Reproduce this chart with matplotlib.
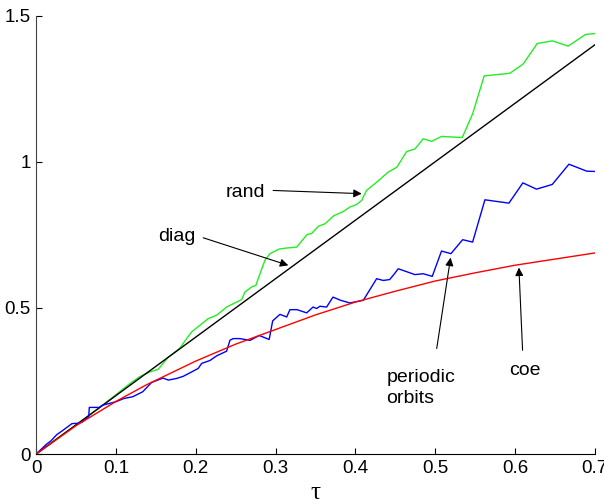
import matplotlib
matplotlib.use("Agg")
import matplotlib.pyplot as plt

# ---- data ----
diag_tau = [0.0, 0.7]
diag_val = [0.0, 1.4]

coe_tau = [0, 0.05, 0.1, 0.1376, 0.2, 0.25, 0.3, 0.35, 0.4, 0.45, 0.5, 0.55, 0.6, 0.65, 0.7]
coe_val = [0, 0.097, 0.18, 0.236, 0.318, 0.376, 0.426, 0.476, 0.52, 0.557, 0.592, 0.62, 0.646, 0.667, 0.688]

rand_tau = [0, 0.02, 0.04, 0.06, 0.08, 0.1, 0.1175, 0.13, 0.1426, 0.153, 0.165, 0.18,
            0.1886, 0.1949, 0.2053, 0.2157, 0.2262, 0.2387, 0.249, 0.2575, 0.2617, 0.270,
            0.2754, 0.2805, 0.2867, 0.293, 0.3047, 0.314, 0.3264, 0.3397, 0.345, 0.3535,
            0.362, 0.373, 0.385, 0.393, 0.4016, 0.408, 0.414, 0.4267, 0.441, 0.452, 0.4643,
            0.4747, 0.4851, 0.4956, 0.5081, 0.534, 0.547, 0.5615, 0.5937, 0.6104, 0.628,
            0.647, 0.6667, 0.6886, 0.70]
rand_val = [0, 0.04, 0.08, 0.118, 0.16, 0.203, 0.241, 0.265, 0.281, 0.29, 0.33, 0.362,
            0.395, 0.418, 0.4407, 0.4636, 0.475, 0.503, 0.517, 0.5285, 0.5545, 0.5716,
            0.5774, 0.617, 0.663, 0.6857, 0.7015, 0.705, 0.708, 0.7516, 0.754, 0.779,
            0.788, 0.8155, 0.830, 0.845, 0.854, 0.868, 0.902, 0.930, 0.9645, 0.9815, 1.035,
            1.044, 1.079, 1.070, 1.087, 1.083, 1.164, 1.294, 1.303, 1.335, 1.405,
            1.414, 1.396, 1.436, 1.439]

po_tau = [0, 0.0123, 0.0185, 0.0257, 0.033, 0.0394, 0.0449, 0.052, 0.058, 0.0658, 0.0666,
          0.079, 0.083, 0.0917, 0.100, 0.110, 0.121, 0.1335, 0.1447, 0.159, 0.1656, 0.176,
          0.1844, 0.1949, 0.203, 0.2074, 0.2178, 0.2262, 0.2387, 0.2429, 0.247, 0.255,
          0.268, 0.2796, 0.292, 0.2964, 0.3055, 0.314, 0.318, 0.327, 0.339, 0.347, 0.3515,
          0.3556, 0.364, 0.372, 0.3816, 0.393, 0.410, 0.4267, 0.435, 0.443, 0.4475, 0.4538,
          0.4747, 0.485, 0.4964, 0.508, 0.5198, 0.5345, 0.547, 0.5624, 0.5925, 0.610, 0.627,
          0.6468, 0.6677, 0.690, 0.700]
po_val = [0, 0.032, 0.045, 0.066, 0.08, 0.093, 0.104, 0.105, 0.11, 0.127, 0.1595,
          0.1595, 0.167, 0.173, 0.179, 0.190, 0.196, 0.213, 0.245, 0.26, 0.253, 0.2586,
          0.266, 0.281, 0.2927, 0.31, 0.32, 0.336, 0.352, 0.3895, 0.395, 0.395,
          0.389, 0.4055, 0.392, 0.4555, 0.478, 0.469, 0.494, 0.494, 0.483, 0.503, 0.498,
          0.5056, 0.503, 0.537, 0.526, 0.517, 0.526, 0.600, 0.594, 0.597, 0.6115, 0.634,
          0.614, 0.617, 0.608, 0.6946, 0.6857, 0.7335, 0.7253, 0.870, 0.8586, 0.928, 0.9065,
          0.9225, 0.9918, 0.968, 0.967]

x_ticks = [0, 0.1, 0.2, 0.3, 0.4, 0.5, 0.6, 0.7]
x_tick_labels = ["0", "0.1", "0.2", "0.3", "0.4", "0.5", "0.6", "0.7"]
y_ticks = [0, 0.5, 1, 1.5]
y_tick_labels = ["0", "0.5", "1", "1.5"]

plt.rcParams['font.family'] = ['Liberation Sans', 'DejaVu Sans']

fig = plt.figure(figsize=(6.04, 5.04), dpi=100)
ax = fig.add_axes([0.0599, 0.0992, 0.9247, 0.8696])

ax.plot(rand_tau, rand_val, color='#22ee22', lw=1.0)
ax.plot(diag_tau, diag_val, color='black', lw=1.0)
ax.plot(po_tau, po_val, color='#0000ff', lw=1.0)
ax.plot(coe_tau, coe_val, color='#ff0000', lw=1.0)

ax.set_xlim(0, 0.7)
ax.set_ylim(0, 1.5)
ax.set_xticks(x_ticks)
ax.set_xticklabels(x_tick_labels)
ax.set_yticks(y_ticks)
ax.set_yticklabels(y_tick_labels)
ax.tick_params(direction='in', length=4, width=0.8, labelsize=13.5, pad=4)
for s in ['top', 'right']:
    ax.spines[s].set_visible(False)
for s in ['left', 'bottom']:
    ax.spines[s].set_linewidth(0.8)
ax.spines['left'].set_color('#444444')

ax.set_xlabel('τ', family=['Liberation Serif', 'DejaVu Serif'], fontsize=18, labelpad=4)

arrow = dict(arrowstyle='-|>', color='black', lw=0.8, mutation_scale=12, shrinkA=0, shrinkB=0)
fs = 14
# arrows
ax.annotate('', xy=(0.408, 0.891), xytext=(0.297, 0.902), arrowprops=arrow)
ax.annotate('', xy=(0.316, 0.6457), xytext=(0.2094, 0.740), arrowprops=arrow)
ax.annotate('', xy=(0.5194, 0.672), xytext=(0.502, 0.361), arrowprops=arrow)
ax.annotate('', xy=(0.605, 0.638), xytext=(0.6096, 0.355), arrowprops=arrow)
# labels
ax.text(0.2867, 0.879, 'rand', fontsize=fs, ha='right', va='baseline')
ax.text(0.1528, 0.7288, 'diag', fontsize=fs, ha='left', va='baseline')
ax.text(0.4392, 0.247, 'periodic', fontsize=fs, ha='left', va='baseline')
ax.text(0.4392, 0.173, 'orbits', fontsize=fs, ha='left', va='baseline')
ax.text(0.5925, 0.27, 'coe', fontsize=fs, ha='left', va='baseline')

fig.savefig('out.png', dpi=100)
